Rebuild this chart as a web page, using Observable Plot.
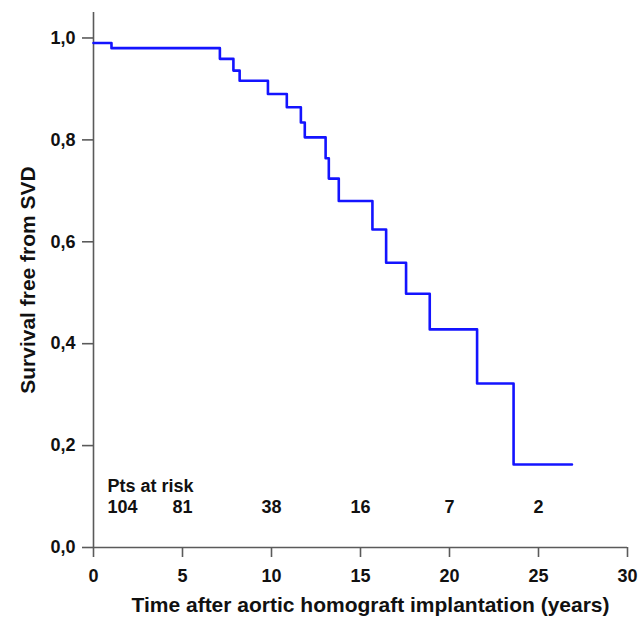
<!DOCTYPE html>
<html>
<head>
<meta charset="utf-8">
<script src="https://cdn.jsdelivr.net/npm/d3@7"></script>
<script src="https://cdn.jsdelivr.net/npm/@observablehq/plot@0.6"></script>
<style>
  html, body { margin: 0; padding: 0; background: #fff; }
  #chart svg { display: block; }
</style>
</head>
<body>
<div id="chart"></div>
<script>
// Kaplan–Meier step data (time in years, survival free from SVD)
const times = [0, 1.01, 7.10, 7.86, 8.21, 9.80, 10.86, 11.65, 11.87, 13.04, 13.22, 13.78, 15.67, 16.44, 17.56, 18.89, 21.55, 23.60, 26.88];
const survival = [0.990, 0.980, 0.959, 0.936, 0.916, 0.890, 0.864, 0.834, 0.805, 0.764, 0.724, 0.680, 0.624, 0.559, 0.498, 0.428, 0.322, 0.163, 0.163];

// Patients at risk
const riskTimes = [0, 5, 10, 15, 20, 25];
const riskCounts = [104, 81, 38, 16, 7, 2];

const xTicks = [0, 5, 10, 15, 20, 25, 30];
const yTicks = [0, 0.2, 0.4, 0.6, 0.8, 1.0];

const xTitle = "Time after aortic homograft implantation (years)";
const yTitle = "Survival free from SVD";
const riskTitle = "Pts at risk";

const curve = times.map((t, i) => ({t, s: survival[i]}));
const risk = riskTimes.map((t, i) => ({t, n: riskCounts[i]}));

const axisColor = "#5a5a5a";
const font = "'Liberation Sans', Arial, sans-serif";

const chart = Plot.plot({
  width: 640,
  height: 624,
  marginLeft: 93,
  marginRight: 13,
  marginTop: 12,
  marginBottom: 77,
  style: {fontFamily: font, fontWeight: "bold", color: "#111", background: "#fff"},
  x: {domain: [0, 30]},
  y: {domain: [0, 1.05]},
  marks: [
    Plot.ruleX([0], {y1: 0, y2: 1.05, stroke: axisColor, strokeWidth: 1.6}),
    Plot.ruleY([0], {x1: 0, x2: 30, stroke: axisColor, strokeWidth: 1.6}),
    Plot.axisX({ticks: xTicks, tickSize: 10, tickPadding: 12, stroke: axisColor, strokeWidth: 1.6,
      fontSize: 18, fontWeight: "bold", fill: "#111", label: null}),
    Plot.axisY({ticks: yTicks, tickSize: 11, tickPadding: 7, stroke: axisColor, strokeWidth: 1.6,
      fontSize: 18, fontWeight: "bold", fill: "#111", label: null,
      tickFormat: d => d.toFixed(1).replace(".", ",")}),
    Plot.line(curve, {x: "t", y: "s", curve: "step-after", stroke: "#1414ff", strokeWidth: 2.6}),
    Plot.text([riskTitle], {x: 0, y: 0.12, text: d => d, textAnchor: "start", dx: 14,
      fontSize: 18, fontWeight: "bold", fill: "#111"}),
    Plot.text(risk.slice(0, 1), {x: "t", y: 0.08, text: "n", textAnchor: "start", dx: 14,
      fontSize: 18, fontWeight: "bold", fill: "#111"}),
    Plot.text(risk.slice(1), {x: "t", y: 0.08, text: "n", textAnchor: "middle",
      fontSize: 18, fontWeight: "bold", fill: "#111"}),
    Plot.text([xTitle], {frameAnchor: "bottom", text: d => d, dy: 64, dx: 10, textAnchor: "middle",
      fontSize: 21, fontWeight: "bold", fill: "#111"}),
    Plot.text([yTitle], {frameAnchor: "left", text: d => d, rotate: -90, dx: -65, textAnchor: "middle",
      fontSize: 21, fontWeight: "bold", fill: "#111"})
  ]
});

document.getElementById("chart").append(chart);
</script>
</body>
</html>
